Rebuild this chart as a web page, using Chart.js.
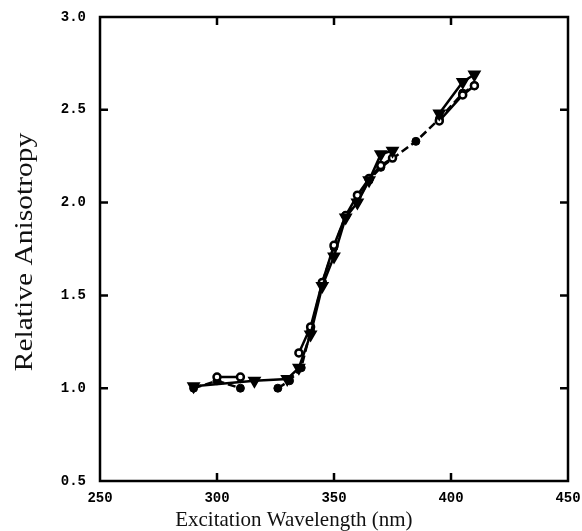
<!DOCTYPE html>
<html>
<head>
<meta charset="utf-8">
<script src="https://cdn.jsdelivr.net/npm/chart.js@4/dist/chart.umd.min.js"></script>
<style>
  html, body { margin: 0; padding: 0; background: #fff; }
  #wrap { width: 582px; height: 531px; }
</style>
</head>
<body>
<div id="wrap"><canvas id="c" width="582" height="531"></canvas></div>
<script>
// Excitation wavelength (nm) and relative anisotropy for each measured series;
// null marks a break in the connecting line
const triWavelength = [290, 316, 330, 335, 340, 345, 350, 355, 360, 365, 370, 375, 385, 395, 405, 410];
const triAnisotropy = [1.01, 1.04, 1.05, 1.11, 1.29, 1.55, 1.71, 1.92, 2.00, 2.12, 2.26, 2.28, null, 2.48, 2.65, 2.69];

const openWavelength = [300, 310, 320, 335, 340, 345, 350, 355, 360, 365, 370, 375, 385, 395, 405, 410];
const openAnisotropy = [1.06, 1.06, null, 1.19, 1.33, 1.57, 1.77, 1.93, 2.04, 2.13, 2.20, 2.24, null, 2.44, 2.58, 2.63];

const filledWavelength = [290, 300, 310, 318, 326, 331, 336, 340, 345, 350, 355, 360, 365, 370, 385, 395, 405, 410];
const filledAnisotropy = [1.00, 1.04, 1.00, null, 1.00, 1.04, 1.11, 1.31, 1.57, 1.76, 1.93, 2.01, 2.12, 2.19, 2.33, 2.45, 2.59, 2.63];

const xTickValues = [250, 300, 350, 400, 450];
const yTickValues = [0.5, 1.0, 1.5, 2.0, 2.5, 3.0];

const xTitle = 'Excitation Wavelength (nm)';
const yTitle = 'Relative Anisotropy';

const toPoints = (xs, ys) => xs.map((x, i) => ({ x: x, y: ys[i] }));

// Box frame, inward tick marks and the two axis titles
const framePlugin = {
  id: 'frame',
  afterDraw(chart) {
    const { ctx, chartArea: a, scales } = chart;
    const xs = scales.x, ys = scales.y;
    const len = 8;
    ctx.save();
    ctx.strokeStyle = '#000';
    ctx.lineWidth = 2.5;
    ctx.strokeRect(a.left, a.top, a.right - a.left, a.bottom - a.top);
    ctx.beginPath();
    xTickValues.slice(1, -1).forEach(v => {
      const px = xs.getPixelForValue(v);
      ctx.moveTo(px, a.bottom); ctx.lineTo(px, a.bottom - len);
      ctx.moveTo(px, a.top); ctx.lineTo(px, a.top + len);
    });
    yTickValues.slice(1, -1).forEach(v => {
      const py = ys.getPixelForValue(v);
      ctx.moveTo(a.left, py); ctx.lineTo(a.left + len, py);
      ctx.moveTo(a.right, py); ctx.lineTo(a.right - len, py);
    });
    ctx.stroke();

    ctx.fillStyle = '#111';
    ctx.font = '21px "Liberation Serif", "DejaVu Serif", serif';
    ctx.textAlign = 'center';
    ctx.textBaseline = 'alphabetic';
    ctx.fillText(xTitle, a.left + 0.41 * (a.right - a.left) + 2, 526);

    ctx.translate(32, (a.top + a.bottom) / 2 + 3);
    ctx.rotate(-Math.PI / 2);
    ctx.scale(1.18, 1);
    ctx.font = '25px "Liberation Serif", "DejaVu Serif", serif';
    ctx.fillText(yTitle, 0, 0);
    ctx.restore();
  }
};

const tickFont = { family: '"Liberation Mono", "DejaVu Sans Mono", monospace', size: 14, weight: 'bold' };

new Chart(document.getElementById('c'), {
  type: 'scatter',
  data: {
    datasets: [
      {
        label: 'triangles',
        data: toPoints(triWavelength, triAnisotropy),
        showLine: true,
        spanGaps: false,
        borderColor: '#000',
        borderWidth: 2.5,
        pointStyle: 'triangle',
        rotation: 180,
        pointRadius: 5.5,
        pointBorderWidth: 2.5,
        pointBackgroundColor: '#000',
        pointBorderColor: '#000'
      },
      {
        label: 'open circles',
        data: toPoints(openWavelength, openAnisotropy),
        showLine: true,
        spanGaps: false,
        borderColor: '#000',
        borderWidth: 2.5,
        pointStyle: 'circle',
        pointRadius: 3.5,
        pointBorderWidth: 2.5,
        pointBackgroundColor: '#fff',
        pointBorderColor: '#000'
      },
      {
        label: 'filled circles',
        data: toPoints(filledWavelength, filledAnisotropy),
        showLine: true,
        spanGaps: false,
        borderColor: '#000',
        borderWidth: 2.5,
        borderDash: [8, 4],
        pointStyle: 'circle',
        pointRadius: 4,
        pointBorderWidth: 1,
        pointBackgroundColor: '#000',
        pointBorderColor: '#000'
      }
    ]
  },
  options: {
    responsive: false,
    animation: false,
    devicePixelRatio: 1,
    layout: { padding: { top: 17, right: 14, bottom: 0, left: 0 } },
    plugins: {
      legend: { display: false },
      tooltip: { enabled: false }
    },
    scales: {
      x: {
        type: 'linear',
        min: 250,
        max: 450,
        afterFit(scale) {
          scale.height = 50;
          scale.paddingLeft = 0;
          scale.paddingRight = 0;
        },
        afterBuildTicks(scale) { scale.ticks = xTickValues.map(v => ({ value: v })); },
        grid: { display: false, drawTicks: false },
        border: { display: false },
        ticks: {
          color: '#000',
          font: tickFont,
          padding: 9,
          maxRotation: 0,
          callback: v => String(v)
        }
      },
      y: {
        type: 'linear',
        min: 0.5,
        max: 3.0,
        afterFit(scale) {
          scale.width = 100;
          scale.paddingTop = 0;
          scale.paddingBottom = 0;
        },
        afterBuildTicks(scale) { scale.ticks = yTickValues.map(v => ({ value: v })); },
        grid: { display: false, drawTicks: false },
        border: { display: false },
        ticks: {
          color: '#000',
          font: tickFont,
          padding: 14,
          callback: v => Number(v).toFixed(1)
        }
      }
    }
  },
  plugins: [framePlugin]
});
</script>
</body>
</html>
